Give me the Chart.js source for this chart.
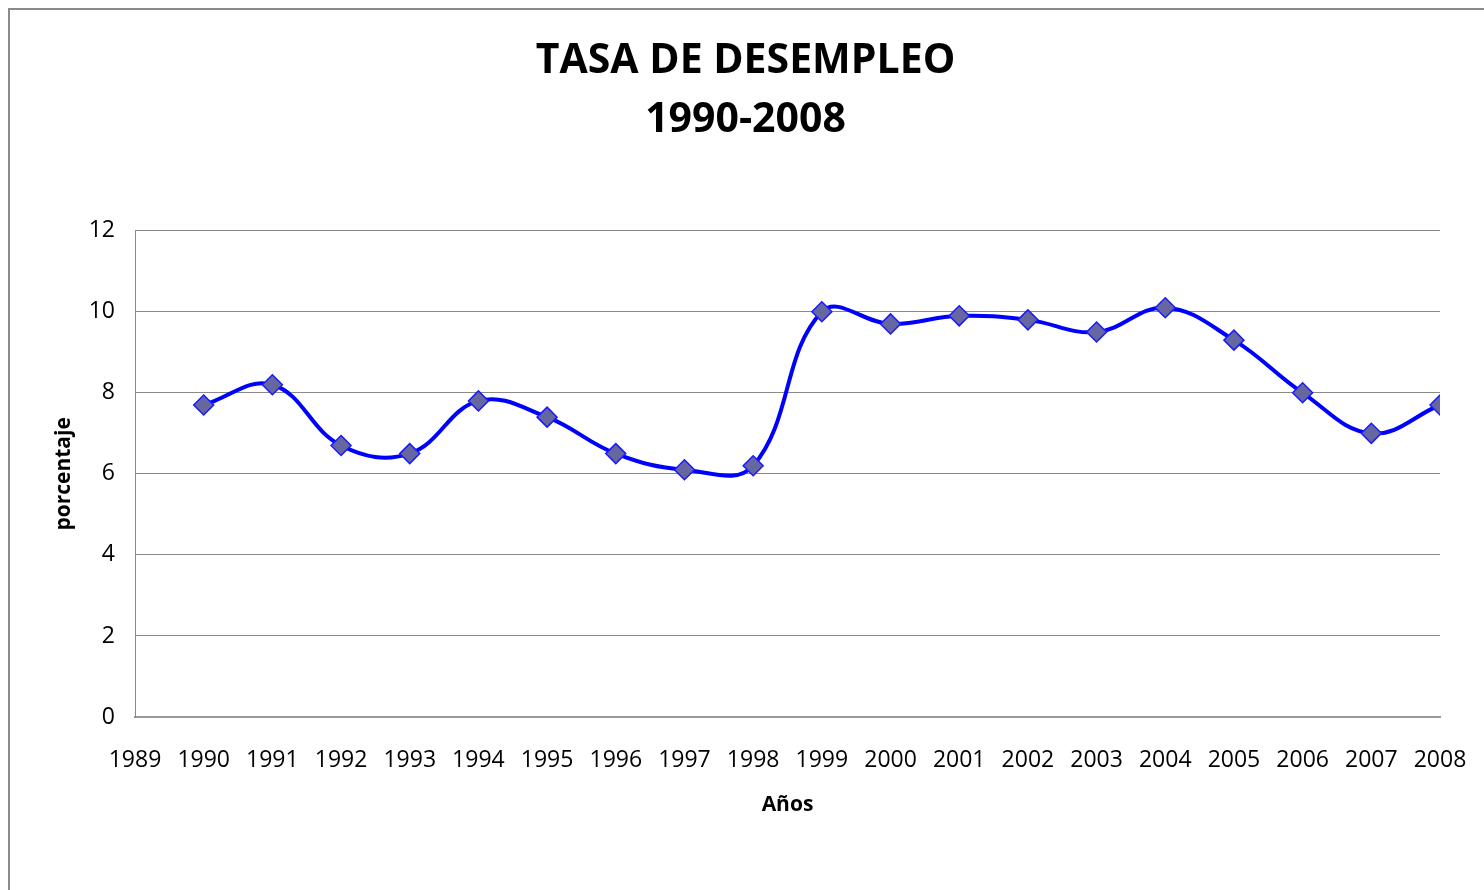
<!DOCTYPE html>
<html>
<head>
<meta charset="utf-8">
<script src="https://cdn.jsdelivr.net/npm/chart.js@4.4.1/dist/chart.umd.min.js"></script>
<style>
  body { margin: 0; background: #fff; overflow: hidden; }
  #frame { position: absolute; left: 8px; top: 8px; width: 1500px; height: 900px; border-left: 2px solid #8a8a8a; border-top: 2px solid #8a8a8a; }
  #wrap { position: absolute; left: 8px; top: 8px; width: 1484px; height: 890px; }
</style>
</head>
<body>
<div id="frame"></div>
<div id="wrap"><canvas id="rateChart"></canvas></div>
<script>
// Tasa de desempleo por año
const years = [1990, 1991, 1992, 1993, 1994, 1995, 1996, 1997, 1998, 1999,
               2000, 2001, 2002, 2003, 2004, 2005, 2006, 2007, 2008];
const rates = [7.7, 8.2, 6.7, 6.5, 7.8, 7.4, 6.5, 6.1, 6.2, 10.0,
               9.7, 9.9, 9.8, 9.5, 10.1, 9.3, 8.0, 7.0, 7.7];
const titleLines = ['TASA DE DESEMPLEO', '1990-2008'];

const FONT = "'Open Sans', 'Liberation Sans', sans-serif";

const ctx = document.getElementById('rateChart').getContext('2d');

const rateChart = new Chart(ctx, {
    type: 'line',
    data: {
        datasets: [{
            label: 'Tasa',
            data: years.map((y, i) => ({ x: y, y: rates[i] })),
            borderColor: '#0000ff',
            borderWidth: 4,
            tension: 0.4,
            pointStyle: 'rectRot',
            pointRadius: 10,
            pointHoverRadius: 10,
            pointBackgroundColor: '#6666a0',
            pointBorderColor: '#1a1aff',
            pointBorderWidth: 1.5
        }]
    },
    options: {
        responsive: true,
        maintainAspectRatio: false,
        animation: false,
        layout: {
            padding: { left: 43, right: 52, top: 0, bottom: 80 }
        },
        plugins: {
            legend: { display: false },
            tooltip: { enabled: false },
            title: {
                display: true,
                text: titleLines,
                color: '#000',
                font: { family: FONT, size: 41, weight: 'bold', lineHeight: 1.46 },
                padding: { top: 23, bottom: 80 }
            }
        },
        scales: {
            x: {
                type: 'linear',
                min: 1989,
                max: 2008,
                ticks: {
                    stepSize: 1,
                    color: '#000',
                    padding: 30,
                    maxRotation: 0,
                    autoSkip: false,
                    font: { family: FONT, size: 23 },
                    callback: function(value) { return String(value); }
                },
                grid: { display: false, drawTicks: false },
                border: { display: true, color: '#999', width: 2 },
                title: {
                    display: true,
                    text: 'Años',
                    color: '#000',
                    font: { family: FONT, size: 21, weight: 'bold' },
                    padding: 0
                },
                afterFit: function(scale) {
                    scale.height = 101;
                    scale.paddingLeft = 0;
                    scale.paddingRight = 0;
                }
            },
            y: {
                min: 0,
                max: 12,
                ticks: {
                    stepSize: 2,
                    color: '#000',
                    padding: 20,
                    font: { family: FONT, size: 23 }
                },
                grid: { color: '#8a8a8a', lineWidth: 1, drawTicks: false },
                border: { display: true, color: '#8a8a8a', width: 1 },
                title: {
                    display: true,
                    text: 'porcentaje',
                    color: '#000',
                    font: { family: FONT, size: 21, weight: 'bold' },
                    padding: 0
                },
                afterFit: function(scale) { scale.width = 84; }
            }
        }
    }
});
</script>
</body>
</html>
